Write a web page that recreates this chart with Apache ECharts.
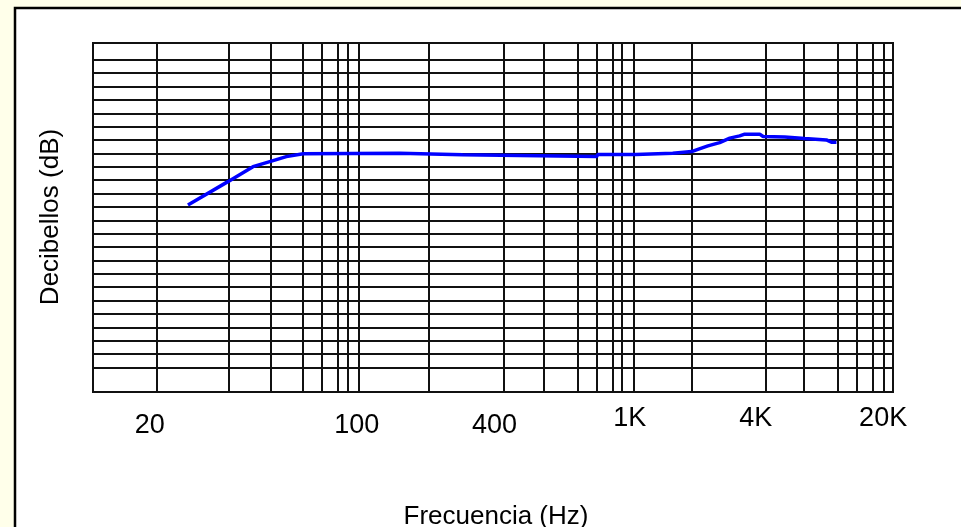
<!DOCTYPE html>
<html>
<head>
<meta charset="utf-8">
<script src="https://cdn.jsdelivr.net/npm/echarts@6/dist/echarts.min.js"></script>
<style>
  html, body { margin: 0; padding: 0; background: #FFFFEA; }
  #chart { width: 961px; height: 527px; }
</style>
</head>
<body>
<div id="chart"></div>
<script>
// Horizontal position is measured in decades of the printed (non-uniform) log grid: 0 = left edge, 3 = right edge.
const gridLinesX = [0, 0.240, 0.510, 0.665, 0.7875, 0.859, 0.919, 0.956, 0.998,
                    1.260, 1.540, 1.691, 1.819, 1.888, 1.950, 1.984, 2.028,
                    2.244, 2.522, 2.666, 2.792, 2.863, 2.923, 2.966, 3];
// Horizontal grid lines (level steps)
const gridLinesY = [0, 1, 2, 3, 4, 5, 6, 7, 8, 9, 10, 11, 12, 13, 14, 15, 16, 17, 18, 19, 20, 21, 22, 23];
// Frequency tick labels and where they sit along the axis
const tickLabels = ['20', '100', '400', '1K', '4K', '20K'];
const tickLabelPos = [0.2126, 0.9889, 1.506, 2.0126, 2.485, 2.963];
// Response curve
const curveX = [0.356, 0.506, 0.600, 0.663, 0.725, 0.788, 1.150, 1.154, 1.386, 1.390, 1.889, 1.892,
                2.035, 2.039, 2.174, 2.177, 2.245, 2.263, 2.306, 2.350, 2.388, 2.425, 2.444, 2.500,
                2.513, 2.594, 2.669, 2.750, 2.769, 2.788];
const curveY = [12.15, 13.89, 15.01, 15.39, 15.76, 15.97, 16.02, 15.89, 15.89, 15.76, 15.76, 15.91,
                15.91, 16.02, 16.02, 16.14, 16.14, 16.27, 16.56, 16.81, 17.14, 17.31, 17.44, 17.44,
                17.26, 17.22, 17.11, 17.01, 16.84, 16.84];

const xTitle = 'Frecuencia (Hz)';
const yTitle = 'Decibellos (dB)';

const chart = echarts.init(document.getElementById('chart'));
const lineCol = '#111111';
const labelFont = '"Liberation Sans Narrow", "Liberation Sans", Arial, sans-serif';
chart.setOption({
  backgroundColor: '#FFFFEA',
  animation: false,
  graphic: [
    { type: 'rect', z: -10, shape: { x: 15, y: 8, width: 1000, height: 600 },
      style: { fill: '#FFFFFF', stroke: '#000000', lineWidth: 2.5 } },
    { type: 'text', x: 496, y: 517,
      style: { text: xTitle, x: 0, y: 0, align: 'center', verticalAlign: 'middle',
      font: '26px "Liberation Sans", Arial, sans-serif', fill: '#000' } },
    { type: 'text', x: 51, y: 217, rotation: Math.PI / 2,
      style: { text: yTitle, x: 0, y: 0, align: 'center', verticalAlign: 'middle',
      font: '26px "Liberation Sans", Arial, sans-serif', fill: '#000' } }
  ],
  grid: { left: 93, top: 43, width: 800, height: 349, show: true, borderColor: lineCol, borderWidth: 2,
          backgroundColor: 'transparent' },
  xAxis: {
    type: 'value', min: 0, max: 3,
    axisLine: { show: false },
    axisTick: { show: false, customValues: gridLinesX },
    splitLine: { show: true, lineStyle: { color: lineCol, width: 2 } },
    axisLabel: {
      customValues: tickLabelPos,
      margin: 13,
      fontFamily: labelFont,
      fontSize: 27, color: '#000',
      formatter: function (v) {
        let best = 0;
        for (let i = 0; i < tickLabelPos.length; i++) {
          if (Math.abs(tickLabelPos[i] - v) < Math.abs(tickLabelPos[best] - v)) best = i;
        }
        return best < 3 ? '{lo|' + tickLabels[best] + '}' : '{hi|' + tickLabels[best] + '}';
      },
      rich: {
        lo: { fontSize: 27, padding: [7, 0, 0, 0], fontFamily: labelFont },
        hi: { fontSize: 27, padding: [0, 0, 0, 0], fontFamily: labelFont }
      }
    }
  },
  yAxis: {
    type: 'value', min: -1.83, max: 24.25,
    axisLine: { show: false },
    axisTick: { show: false, customValues: gridLinesY },
    axisLabel: { show: false },
    splitLine: { show: true, lineStyle: { color: lineCol, width: 2 } }
  },
  series: [{
    type: 'line',
    data: curveX.map((x, i) => [x, curveY[i]]),
    symbol: 'none',
    lineStyle: { color: '#0000FF', width: 3.5 },
    z: 5
  }]
});
</script>
</body>
</html>
